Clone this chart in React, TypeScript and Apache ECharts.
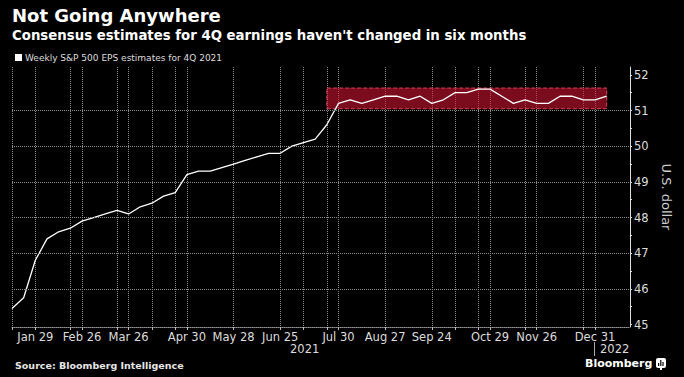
import React, { useEffect, useRef } from "react";
import * as echarts from "echarts";

const weeks = [
  "2021-01-15", "2021-01-22", "2021-01-29", "2021-02-05", "2021-02-12", "2021-02-19", "2021-02-26",
  "2021-03-05", "2021-03-12", "2021-03-19", "2021-03-26", "2021-04-02", "2021-04-09", "2021-04-16",
  "2021-04-23", "2021-04-30", "2021-05-07", "2021-05-14", "2021-05-21", "2021-05-28", "2021-06-04",
  "2021-06-11", "2021-06-18", "2021-06-25", "2021-07-02", "2021-07-09", "2021-07-16", "2021-07-23",
  "2021-07-30", "2021-08-06", "2021-08-13", "2021-08-20", "2021-08-27", "2021-09-03", "2021-09-10",
  "2021-09-17", "2021-09-24", "2021-10-01", "2021-10-08", "2021-10-15", "2021-10-22", "2021-10-29",
  "2021-11-05", "2021-11-12", "2021-11-19", "2021-11-26", "2021-12-03", "2021-12-10", "2021-12-17",
  "2021-12-24", "2021-12-31", "2022-01-07", "2022-01-14", "2022-01-21",
];

const eps: (number | null)[] = [
  45.45, 45.75, 46.8, 47.4, 47.6, 47.7, 47.9, 48.0, 48.1, 48.2, 48.1, 48.3, 48.4, 48.6, 48.7,
  49.2, 49.3, 49.3, 49.4, 49.5, 49.6, 49.7, 49.8, 49.8, 50.0, 50.1, 50.2, 50.6,
  51.2, 51.3, 51.2, 51.3, 51.4, 51.4, 51.3, 51.4, 51.2, 51.3, 51.5, 51.5, 51.6, 51.6,
  51.4, 51.2, 51.3, 51.2, 51.2, 51.4, 51.4, 51.3, 51.3, 51.4, null, null,
];

const labelWeeks = [
  "2021-01-29", "2021-02-26", "2021-03-26", "2021-04-30", "2021-05-28", "2021-06-25",
  "2021-07-30", "2021-08-27", "2021-09-24", "2021-10-29", "2021-11-26", "2021-12-31",
];

const gridWeeks = [
  "2021-01-15", "2021-01-29", "2021-02-19", "2021-02-26", "2021-03-19", "2021-03-26", "2021-04-09",
  "2021-04-23", "2021-04-30", "2021-05-28", "2021-06-25", "2021-07-09", "2021-07-23", "2021-07-30",
  "2021-08-27", "2021-09-24", "2021-10-08", "2021-10-22", "2021-10-29", "2021-11-19", "2021-11-26",
  "2021-12-24", "2021-12-31",
];

const yLabelValues = [45, 46, 47, 48, 49, 50, 51, 52];
const yTickValues = [45, 45.5, 46, 46.5, 47, 47.5, 48, 48.5, 49, 49.5, 50, 50.5, 51, 51.5, 52];
const yGridValues = [46, 47, 48, 49, 50, 51];

const bandFrom = "2021-07-23";
const bandTo = "2022-01-07";
const bandLow = 51.05;
const bandHigh = 51.63;

const yearLabels = ["2021", "2022"];
const monthNames = ["Jan", "Feb", "Mar", "Apr", "May", "Jun", "Jul", "Aug", "Sep", "Oct", "Nov", "Dec"];

const seriesName = "Weekly S&P 500 EPS estimates for 4Q 2021";
const FONT = "DejaVu Sans";
const GRID = "#8c8c8c";

export default function App() {
  const ref = useRef<HTMLDivElement>(null);
  useEffect(() => {
    if (!ref.current) return;
    const chart = echarts.init(ref.current, null, { renderer: "svg" });
    const labelSet = new Set(labelWeeks);
    const gridSet = new Set(gridWeeks);
    const fmt = (v: string) => {
      const [, m, d] = v.split("-");
      return monthNames[parseInt(m, 10) - 1] + " " + parseInt(d, 10);
    };
    chart.setOption({
      animation: false,
      backgroundColor: "#000000",
      title: [
        {
          text: "Not Going Anywhere",
          left: 12,
          top: 6,
          padding: 0,
          textStyle: { color: "#ffffff", fontFamily: FONT, fontWeight: "bold", fontSize: 18 },
        },
        {
          text: "Consensus estimates for 4Q earnings haven't changed in six months",
          left: 12,
          top: 29,
          padding: 0,
          textStyle: { color: "#ffffff", fontFamily: FONT, fontWeight: "bold", fontSize: 13.3 },
        },
      ],
      legend: {
        data: [seriesName],
        left: 15,
        top: 53,
        padding: 0,
        icon: "rect",
        itemWidth: 7,
        itemHeight: 7,
        itemGap: 10,
        textStyle: { color: "#dddddd", fontFamily: FONT, fontSize: 9, padding: [0, 0, 0, -2] },
        itemStyle: { color: "#ffffff" },
      },
      grid: { left: 12, right: 54, top: 67, bottom: 50, containLabel: false },
      xAxis: {
        type: "category",
        data: weeks,
        boundaryGap: false,
        axisLine: { show: true, onZero: false, lineStyle: { color: "#999999", width: 1, type: "dotted" } },
        axisTick: {
          show: true,
          length: 3,
          interval: (_i: number, v: string) => gridSet.has(v),
          lineStyle: { color: "#bbbbbb" },
        },
        axisLabel: {
          interval: (_i: number, v: string) => labelSet.has(v),
          formatter: fmt,
          color: "#dddddd",
          fontFamily: FONT,
          fontSize: 11.5,
          margin: 4,
        },
        splitLine: {
          show: true,
          interval: (_i: number, v: string) => gridSet.has(v),
          lineStyle: { color: GRID, width: 1, type: "dotted" },
        },
      },
      yAxis: {
        type: "value",
        position: "right",
        min: 44.93,
        max: 52.22,
        axisLine: { show: true, lineStyle: { color: "#dddddd", width: 1 } },
        axisTick: {
          show: true,
          inside: false,
          length: 2,
          customValues: yTickValues,
          lineStyle: { color: "#dddddd" },
        },
        axisLabel: {
          customValues: yLabelValues,
          color: "#dddddd",
          fontFamily: FONT,
          fontSize: 11.5,
          margin: 4,
        },
        splitLine: { show: false },
        name: "U.S. dollar",
        nameLocation: "middle",
        nameRotate: -90,
        nameGap: 28,
        nameTextStyle: { color: "#cccccc", fontFamily: FONT, fontSize: 13 },
      },
      series: [
        {
          type: "line",
          name: "grid",
          data: [],
          z: 1,
          silent: true,
          markLine: {
            silent: true,
            symbol: ["none", "none"],
            label: { show: false },
            lineStyle: { color: GRID, width: 1, type: "dotted" },
            data: yGridValues.map((v) => ({ yAxis: v })),
          },
        },
        {
          type: "line",
          name: seriesName,
          data: eps,
          z: 2,
          symbol: "none",
          connectNulls: false,
          itemStyle: { color: "#ffffff" },
          lineStyle: { color: "#ffffff", width: 1.3 },
        },
        {
          type: "line",
          name: "band",
          data: [],
          z: 5,
          silent: true,
          markArea: {
            silent: true,
            itemStyle: {
              color: "rgba(210,20,50,0.58)",
              borderColor: "#e0405a",
              borderWidth: 1,
              borderType: "dashed",
            },
            data: [[{ xAxis: bandFrom, yAxis: bandLow }, { xAxis: bandTo, yAxis: bandHigh }]],
          },
        },
      ],
      graphic: [
        {
          type: "text",
          left: 290,
          top: 343,
          style: { text: yearLabels[0], fill: "#dddddd", font: `11.5px "${FONT}"` },
        },
        {
          type: "line",
          shape: { x1: 594.5, y1: 342, x2: 594.5, y2: 356 },
          style: { stroke: "#aaaaaa", lineWidth: 1 },
        },
        {
          type: "text",
          left: 600,
          top: 343,
          style: { text: yearLabels[1], fill: "#dddddd", font: `11.5px "${FONT}"` },
        },
        {
          type: "text",
          left: 15,
          top: 360,
          style: { text: "Source: Bloomberg Intelligence", fill: "#e6e6e6", font: `bold 9.5px "${FONT}"` },
        },
        {
          type: "text",
          left: 585,
          top: 358,
          style: { text: "Bloomberg", fill: "#ffffff", font: `bold 11px "${FONT}"` },
        },
        {
          type: "group",
          left: 656,
          top: 358,
          children: [
            { type: "rect", shape: { x: 0, y: 0, width: 10, height: 10, r: 2 }, style: { fill: "#ffffff" } },
            { type: "rect", shape: { x: 2, y: 5, width: 1.2, height: 3 }, style: { fill: "#000000" } },
            { type: "rect", shape: { x: 4.2, y: 2, width: 1.2, height: 6 }, style: { fill: "#000000" } },
            { type: "rect", shape: { x: 6.4, y: 4, width: 1.2, height: 4 }, style: { fill: "#000000" } },
            { type: "rect", shape: { x: 4, y: 10, width: 2, height: 2 }, style: { fill: "#ffffff" } },
          ],
        },
      ],
    });
    return () => chart.dispose();
  }, []);
  return (
    <div
      ref={ref}
      style={{ position: "fixed", left: 0, top: 0, width: 684, height: 377, background: "#000" }}
    />
  );
}
